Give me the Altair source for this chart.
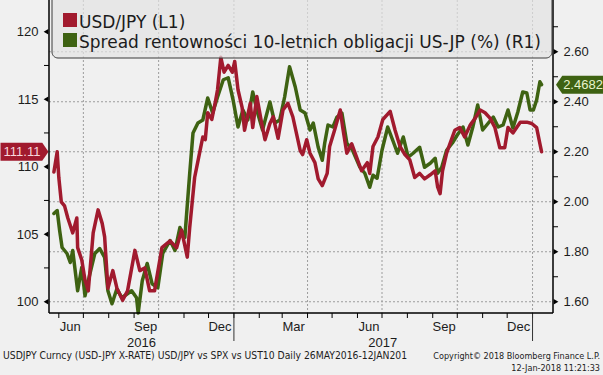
import altair as alt
import pandas as pd

# ---------------- data ----------------
usdjpy_dates = [
    "2016-05-26", "2016-05-30", "2016-06-01", "2016-06-04", "2016-06-08", "2016-06-12",
    "2016-06-18", "2016-06-23", "2016-06-24", "2016-06-29", "2016-07-03", "2016-07-07",
    "2016-07-13", "2016-07-19", "2016-07-24", "2016-07-27", "2016-07-31", "2016-08-06",
    "2016-08-11", "2016-08-18", "2016-08-24", "2016-09-02", "2016-09-08", "2016-09-14",
    "2016-09-20", "2016-09-26", "2016-10-05", "2016-10-15", "2016-10-23", "2016-10-29",
    "2016-11-05", "2016-11-08", "2016-11-14", "2016-11-20", "2016-11-24", "2016-11-27",
    "2016-11-30", "2016-12-05", "2016-12-09", "2016-12-12", "2016-12-16", "2016-12-20",
    "2016-12-25", "2016-12-30", "2017-01-02", "2017-01-06", "2017-01-11", "2017-01-14",
    "2017-01-21", "2017-01-24", "2017-01-29", "2017-02-04", "2017-02-08", "2017-02-14",
    "2017-02-18", "2017-02-24", "2017-03-02", "2017-03-08", "2017-03-14", "2017-03-23",
    "2017-03-26", "2017-03-31", "2017-04-04", "2017-04-10", "2017-04-14", "2017-04-19",
    "2017-04-25", "2017-04-28", "2017-05-04", "2017-05-11", "2017-05-14", "2017-05-19",
    "2017-05-25", "2017-05-31", "2017-06-06", "2017-06-13", "2017-06-16", "2017-06-20",
    "2017-06-26", "2017-07-02", "2017-07-11", "2017-07-17", "2017-07-23", "2017-07-29",
    "2017-08-04", "2017-08-10", "2017-08-16", "2017-08-22", "2017-08-29", "2017-09-04",
    "2017-09-07", "2017-09-10", "2017-09-13", "2017-09-18", "2017-09-22", "2017-09-28",
    "2017-10-04", "2017-10-10", "2017-10-17", "2017-10-23", "2017-10-29", "2017-11-04",
    "2017-11-10", "2017-11-16", "2017-11-22", "2017-11-28", "2017-12-02", "2017-12-08",
    "2017-12-17", "2017-12-25", "2017-12-31", "2018-01-06", "2018-01-10", "2018-01-12",
]
usdjpy_values = [
    109.6, 111.1, 109.2, 107.4, 107.1, 106.2,
    105.1, 106.2, 104.0, 103.1, 101.6, 100.8,
    105.1, 106.8, 105.8, 104.8, 101.0, 102.3,
    101.0, 100.1, 100.8, 103.8, 102.3, 102.5,
    100.8, 100.8, 104.0, 104.5, 104.0, 105.3,
    103.3, 105.5, 109.2, 111.0, 112.2, 112.0,
    114.0, 113.5, 114.7, 115.7, 118.1, 117.0,
    117.5, 117.0, 117.8, 115.7, 114.4, 112.7,
    114.7, 112.9, 115.2, 113.2, 112.0, 113.2,
    113.7, 112.1, 114.2, 114.7, 113.7, 111.2,
    110.9, 112.0, 111.0, 110.3, 109.1, 108.6,
    109.5, 111.5, 112.7, 114.2, 112.9, 111.0,
    111.7, 110.7, 109.7, 110.3, 109.5, 111.5,
    112.2, 113.5, 114.1, 112.7, 111.5, 110.9,
    110.5, 109.2, 109.5, 109.1, 109.4, 109.7,
    108.5, 108.0, 109.7, 111.0, 111.7, 112.7,
    112.9, 112.2, 113.1, 113.6, 114.2, 114.0,
    113.6, 112.9, 111.4, 111.4, 112.9, 112.5,
    113.3, 113.3, 113.2, 112.9, 111.7, 111.11,
]

spread_dates = [
    "2016-05-26", "2016-05-30", "2016-06-02", "2016-06-05", "2016-06-11", "2016-06-15",
    "2016-06-18", "2016-06-24", "2016-06-29", "2016-07-03", "2016-07-09", "2016-07-15",
    "2016-07-21", "2016-07-27", "2016-07-31", "2016-08-05", "2016-08-11", "2016-08-17",
    "2016-08-29", "2016-09-04", "2016-09-06", "2016-09-11", "2016-09-17", "2016-09-23",
    "2016-09-30", "2016-10-06", "2016-10-15", "2016-10-21", "2016-10-27", "2016-11-02",
    "2016-11-08", "2016-11-12", "2016-11-18", "2016-11-24", "2016-11-30", "2016-12-06",
    "2016-12-12", "2016-12-19", "2016-12-25", "2016-12-31", "2017-01-06", "2017-01-12",
    "2017-01-18", "2017-01-24", "2017-01-30", "2017-02-05", "2017-02-14", "2017-02-20",
    "2017-02-26", "2017-03-04", "2017-03-10", "2017-03-17", "2017-03-23", "2017-03-29",
    "2017-04-04", "2017-04-08", "2017-04-14", "2017-04-19", "2017-04-22", "2017-04-26",
    "2017-05-02", "2017-05-07", "2017-05-13", "2017-05-19", "2017-05-26", "2017-06-04",
    "2017-06-10", "2017-06-16", "2017-06-20", "2017-06-25", "2017-07-01", "2017-07-08",
    "2017-07-14", "2017-07-20", "2017-07-27", "2017-08-02", "2017-08-08", "2017-08-16",
    "2017-08-22", "2017-08-29", "2017-09-04", "2017-09-07", "2017-09-12", "2017-09-18",
    "2017-09-25", "2017-10-01", "2017-10-08", "2017-10-14", "2017-10-20", "2017-10-26",
    "2017-11-01", "2017-11-08", "2017-11-14", "2017-11-20", "2017-11-26", "2017-12-02",
    "2017-12-08", "2017-12-14", "2017-12-20", "2017-12-25", "2017-12-29", "2018-01-02",
    "2018-01-06", "2018-01-10", "2018-01-12",
]
spread_values = [
    1.953, 1.965, 1.885, 1.817, 1.793, 1.757,
    1.805, 1.644, 1.737, 1.624, 1.712, 1.793,
    1.813, 1.777, 1.644, 1.592, 1.652, 1.616,
    1.644, 1.616, 1.555, 1.684, 1.753, 1.672,
    1.656, 1.793, 1.845, 1.805, 1.897, 1.857,
    2.114, 2.275, 2.315, 2.327, 2.415, 2.355,
    2.419, 2.488, 2.496, 2.407, 2.299, 2.367,
    2.327, 2.439, 2.355, 2.287, 2.399, 2.315,
    2.327, 2.419, 2.540, 2.459, 2.367, 2.355,
    2.287, 2.315, 2.218, 2.166, 2.235, 2.307,
    2.299, 2.339, 2.355, 2.235, 2.206, 2.138,
    2.114, 2.058, 2.106, 2.094, 2.206, 2.299,
    2.247, 2.194, 2.259, 2.178, 2.194, 2.218,
    2.138, 2.154, 2.174, 2.114, 2.138, 2.206,
    2.235, 2.267, 2.299, 2.227, 2.299, 2.387,
    2.287, 2.315, 2.339, 2.299, 2.307, 2.367,
    2.295, 2.359, 2.439, 2.435, 2.367, 2.367,
    2.407, 2.480, 2.4682,
]

left_ticks = [100, 105, 110, 115, 120]
left_minor = [102.5, 107.5, 112.5, 117.5]
right_ticks = [1.6, 1.8, 2.0, 2.2, 2.4, 2.6]
right_minor = [1.7, 1.9, 2.1, 2.3, 2.5, 2.7]

month_starts = [
    "2016-06-01", "2016-07-01", "2016-08-01", "2016-09-01", "2016-10-01", "2016-11-01",
    "2016-12-01", "2017-01-01", "2017-02-01", "2017-03-01", "2017-04-01", "2017-05-01",
    "2017-06-01", "2017-07-01", "2017-08-01", "2017-09-01", "2017-10-01", "2017-11-01",
    "2017-12-01", "2018-01-01",
]
quarter_starts = ["2016-07-01", "2016-10-01", "2017-01-01", "2017-04-01",
                  "2017-07-01", "2017-10-01", "2018-01-01"]
year_starts = ["2017-01-01", "2018-01-01"]
month_label_dates = ["2016-06-15", "2016-09-15", "2016-12-15", "2017-03-15",
                     "2017-06-15", "2017-09-15", "2017-12-15"]
month_labels = ["Jun", "Sep", "Dec", "Mar", "Jun", "Sep", "Dec"]
year_label_dates = ["2016-09-10", "2017-07-02"]
year_labels = ["2016", "2017"]

legend_labels = ["USD/JPY (L1)", "Spread rentowności 10-letnich obligacji US-JP (%) (R1)"]
footer_left = "USDJPY Curncy (USD-JPY X-RATE) USD/JPY vs SPX vs UST10  Daily 26MAY2016-12JAN201"
footer_right = ["Copyright© 2018 Bloomberg Finance L.P.", "12-Jan-2018 11:21:33"]

RED = "#a11a2e"
GREEN = "#3e6212"
TXT = "#1c1c1c"
FONT = "Liberation Sans"

W, H = 504, 313

# ---------------- scales ----------------
x_scale = alt.Scale(type="utc", domain=[alt.DateTime(year=2016, month=5, date=20, utc=True),
                                        alt.DateTime(year=2018, month=1, date=26, utc=True)])
LEFT_DOMAIN = [99.16, 122.35]
RIGHT_DOMAIN = [1.555, 2.807]


def lscale():
    return alt.Scale(domain=LEFT_DOMAIN, nice=False, zero=False)


def rscale():
    return alt.Scale(domain=RIGHT_DOMAIN, nice=False, zero=False)


def xdate(axis=None):
    return alt.X("date:T", scale=x_scale, axis=axis)


red_df = pd.DataFrame({"date": usdjpy_dates, "v": usdjpy_values})
green_df = pd.DataFrame({"date": spread_dates, "v": spread_values})

# ---------------- grid / x axis decorations ----------------
vgrid = alt.Chart(pd.DataFrame({"date": quarter_starts})).mark_rule(
    color="#9c9c9c", strokeWidth=1, strokeDash=[2, 2]
).encode(x=xdate(), y=alt.value(0), y2=alt.value(H))

hgrid = alt.Chart(pd.DataFrame({"v": right_ticks})).mark_rule(
    color="#9c9c9c", strokeWidth=1, strokeDash=[2, 2]
).encode(y=alt.Y("v:Q", scale=rscale(), axis=None), x=alt.value(0), x2=alt.value(W))

mticks = alt.Chart(pd.DataFrame({"date": month_starts})).mark_rule(
    color="black", strokeWidth=1
).encode(x=xdate(), y=alt.value(H), y2=alt.value(H + 5))

ysep = alt.Chart(pd.DataFrame({"date": year_starts})).mark_rule(
    color="#333333", strokeWidth=1
).encode(x=xdate(), y=alt.value(H), y2=alt.value(H + 28))

mlabels = alt.Chart(pd.DataFrame({"date": month_label_dates, "label": month_labels})).mark_text(
    font=FONT, fontSize=13, color=TXT, baseline="alphabetic", align="center"
).encode(x=xdate(), y=alt.value(H + 18), text="label:N")

ylabels = alt.Chart(pd.DataFrame({"date": year_label_dates, "label": year_labels})).mark_text(
    font=FONT, fontSize=13, color=TXT, baseline="alphabetic", align="center"
).encode(x=xdate(), y=alt.value(H + 34), text="label:N")

# axis lines (left, right, bottom)
left_line = alt.Chart(pd.DataFrame({"k": [0]})).mark_rule(color="black", strokeWidth=1.5).encode(
    x=alt.value(0), y=alt.value(0), y2=alt.value(H))
right_line = alt.Chart(pd.DataFrame({"k": [0]})).mark_rule(color="black", strokeWidth=1.5).encode(
    x=alt.value(W), y=alt.value(0), y2=alt.value(H))
bottom_line = alt.Chart(pd.DataFrame({"k": [0]})).mark_rule(color="black", strokeWidth=1.5).encode(
    x=alt.value(0), x2=alt.value(W), y=alt.value(H))

# ---------------- left (USD/JPY) ----------------
left_axis = alt.Axis(orient="left", values=left_ticks, format="d", ticks=False, labelPadding=11,
                     labelFont=FONT, labelFontSize=13, labelColor=TXT, domain=False,
                     grid=False, title=None)

red_line = alt.Chart(red_df).mark_line(
    color=RED, strokeWidth=3.5, strokeJoin="round", strokeCap="round"
).encode(x=xdate(), y=alt.Y("v:Q", scale=lscale(), axis=left_axis))

left_tri = alt.Chart(pd.DataFrame({"v": left_ticks})).mark_point(
    shape="triangle-left", filled=True, color="black", size=30, opacity=1
).encode(x=alt.value(-3), y=alt.Y("v:Q", scale=lscale(), axis=None))

left_min = alt.Chart(pd.DataFrame({"v": left_minor})).mark_rule(color="black", strokeWidth=1).encode(
    x=alt.value(-5), x2=alt.value(0), y=alt.Y("v:Q", scale=lscale(), axis=None))

left_tag_df = pd.DataFrame({"v": [usdjpy_values[-1]], "label": [f"{usdjpy_values[-1]:.2f}"]})
left_tag = alt.Chart(left_tag_df).mark_point(
    shape="M-1,-0.375L0.74,-0.375L1,0L0.74,0.375L-1,0.375Z", filled=True, size=2304,
    color=RED, opacity=1, strokeWidth=0
).encode(x=alt.value(-24.5), y=alt.Y("v:Q", scale=lscale(), axis=None))
left_tag_txt = alt.Chart(left_tag_df).mark_text(
    font=FONT, fontSize=13, color="#f7d7dc", align="center", baseline="middle"
).encode(x=alt.value(-27), y=alt.Y("v:Q", scale=lscale(), axis=None), text="label:N")

# ---------------- right (spread) ----------------
right_axis = alt.Axis(orient="right", values=right_ticks, format=".2f", ticks=False, labelPadding=10,
                      labelFont=FONT, labelFontSize=13, labelColor=TXT, domain=False,
                      grid=False, title=None)

green_line = alt.Chart(green_df).mark_line(
    color=GREEN, strokeWidth=3.5, strokeJoin="round", strokeCap="round"
).encode(x=xdate(), y=alt.Y("v:Q", scale=rscale(), axis=right_axis))

right_tri = alt.Chart(pd.DataFrame({"v": right_ticks})).mark_point(
    shape="triangle-right", filled=True, color="black", size=30, opacity=1
).encode(x=alt.value(W + 3), y=alt.Y("v:Q", scale=rscale(), axis=None))

right_min = alt.Chart(pd.DataFrame({"v": right_minor})).mark_rule(color="black", strokeWidth=1).encode(
    x=alt.value(W), x2=alt.value(W + 5), y=alt.Y("v:Q", scale=rscale(), axis=None))

right_tag_df = pd.DataFrame({"v": [spread_values[-1]], "label": [f"{spread_values[-1]:.4f}"]})
right_tag = alt.Chart(right_tag_df).mark_point(
    shape="M1,-0.375L-0.74,-0.375L-1,0L-0.74,0.375L1,0.375Z", filled=True, size=2304,
    color=GREEN, opacity=1, strokeWidth=0
).encode(x=alt.value(W + 27), y=alt.Y("v:Q", scale=rscale(), axis=None))
right_tag_txt = alt.Chart(right_tag_df).mark_text(
    font=FONT, fontSize=13, color="#e8f3cc", align="center", baseline="middle"
).encode(x=alt.value(W + 30), y=alt.Y("v:Q", scale=rscale(), axis=None), text="label:N")

# ---------------- legend box ----------------
box = alt.Chart(pd.DataFrame({"k": [0]})).mark_rect(
    fill="#e2e2e2", fillOpacity=0.7, stroke="#3a3a3a", strokeWidth=1, cornerRadius=6
).encode(x=alt.value(3), x2=alt.value(503), y=alt.value(-10), y2=alt.value(58))

sq1 = alt.Chart(pd.DataFrame({"k": [0]})).mark_rect(color=RED).encode(
    x=alt.value(14), x2=alt.value(28), y=alt.value(13), y2=alt.value(27))
sq2 = alt.Chart(pd.DataFrame({"k": [0]})).mark_rect(color=GREEN).encode(
    x=alt.value(14), x2=alt.value(28), y=alt.value(33), y2=alt.value(47))

leg1 = alt.Chart(pd.DataFrame({"label": [legend_labels[0]]})).mark_text(
    font="DejaVu Sans", fontSize=17, color=TXT, align="left", baseline="alphabetic"
).encode(x=alt.value(30), y=alt.value(28), text="label:N")
leg2 = alt.Chart(pd.DataFrame({"label": [legend_labels[1]]})).mark_text(
    font="DejaVu Sans", fontSize=17, color=TXT, align="left", baseline="alphabetic"
).encode(x=alt.value(30), y=alt.value(48), text="label:N")

# ---------------- footer ----------------
foot_font = "DejaVu Sans Condensed, Liberation Sans Narrow, sans-serif"
foot1 = alt.Chart(pd.DataFrame({"label": [footer_left]})).mark_text(
    font=foot_font, fontSize=10.3, color=TXT, align="left", baseline="alphabetic"
).encode(x=alt.value(-46), y=alt.value(H + 46), text="label:N")
foot2 = alt.Chart(pd.DataFrame({"label": [footer_right[0]]})).mark_text(
    font=foot_font, fontSize=9, color=TXT, align="right", baseline="alphabetic"
).encode(x=alt.value(W + 47), y=alt.value(H + 46), text="label:N")
foot3 = alt.Chart(pd.DataFrame({"label": [footer_right[1]]})).mark_text(
    font=foot_font, fontSize=9, color=TXT, align="right", baseline="alphabetic"
).encode(x=alt.value(W + 47), y=alt.value(H + 58), text="label:N")

chart = alt.layer(
    vgrid, hgrid, mticks, ysep, mlabels, ylabels,
    green_line, right_tri, right_min, right_tag, right_tag_txt,
    red_line, left_tri, left_min, left_tag, left_tag_txt,
    left_line, right_line, bottom_line,
    box, sq1, sq2, leg1, leg2, foot1, foot2, foot3,
).resolve_scale(y="independent").properties(
    width=W, height=H,
    autosize=alt.AutoSizeParams(type="none"),
    padding={"left": 49, "top": 0, "right": 50, "bottom": 62},
    background="#f0f0f0",
).configure_view(stroke=None)

chart.save("out.html", embed_options={"renderer": "svg", "actions": False})
